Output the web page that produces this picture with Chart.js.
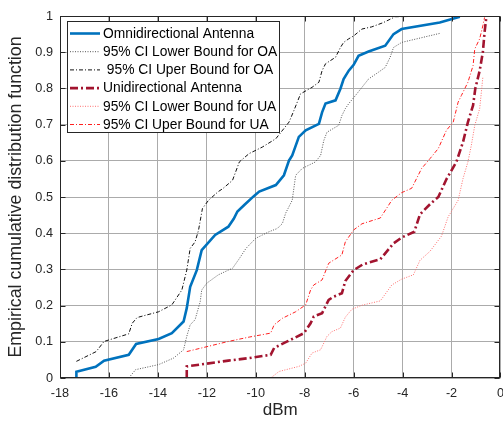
<!DOCTYPE html>
<html><head><meta charset="utf-8">
<script src="https://cdn.jsdelivr.net/npm/chart.js@4.4.1/dist/chart.umd.min.js"></script>
<style>
html,body{margin:0;padding:0;overflow:hidden;background:#fff;width:503px;height:421px}
#wrap{position:absolute;left:0;top:0;width:512px;height:421px}
</style></head>
<body><div id="wrap"><canvas id="c" width="512" height="421"></canvas></div>
<script>
const xTicks = [-18,-16,-14,-12,-10,-8,-6,-4,-2,0];
const yTicks = [0,0.1,0.2,0.3,0.4,0.5,0.6,0.7,0.8,0.9,1];
const xTitle = 'dBm';
const yTitle = 'Empirical cumulative distribution function';
const seriesNames = ['Omnidirectional Antenna','95% CI Lower Bound for OA',' 95% CI Uper Bound for OA','Unidirectional Antenna','95% CI Lower Bound for UA','95% CI Uper Bound for UA'];

const oaX = [-17.33,-17.33,-16.54,-16.2,-15.19,-14.89,-13.97,-13.43,-12.95,-12.82,-12.68,-12.41,-12.21,-11.66,-11.12,-10.9,-10.75,-10.47,-10.07,-9.86,-9.18,-8.85,-8.64,-8.51,-8.24,-7.96,-7.42,-7.29,-7.15,-6.74,-6.54,-6.41,-6.2,-6.0,-5.8,-5.39,-4.71,-4.37,-4.04,-2.48,-1.66];
const oaY = [0,0.017,0.031,0.048,0.064,0.094,0.108,0.124,0.156,0.193,0.252,0.298,0.353,0.395,0.418,0.44,0.46,0.478,0.503,0.515,0.533,0.560,0.601,0.615,0.666,0.684,0.702,0.734,0.758,0.767,0.799,0.826,0.849,0.865,0.89,0.902,0.918,0.950,0.964,0.982,0.998];

const oaLoX = [-16.1,-15.19,-14.91,-13.97,-13.36,-12.95,-12.82,-12.68,-12.48,-12.27,-12.21,-12.0,-11.53,-11.12,-10.95,-10.67,-10.4,-10.0,-9.46,-9.12,-8.91,-8.78,-8.51,-8.37,-8.10,-7.56,-7.35,-7.22,-7.09,-6.61,-6.48,-6.34,-6.2,-5.93,-5.39,-4.98,-4.71,-4.51,-4.37,-4.04,-2.48];
const oaLoY = [0,0,0.023,0.037,0.055,0.078,0.115,0.147,0.161,0.211,0.243,0.262,0.285,0.298,0.303,0.33,0.358,0.386,0.404,0.413,0.427,0.455,0.491,0.560,0.579,0.597,0.615,0.656,0.679,0.698,0.725,0.744,0.758,0.78,0.826,0.845,0.858,0.886,0.913,0.927,0.952];

const oaUpX = [-17.33,-16.52,-16.2,-15.19,-15.05,-14.85,-13.97,-13.43,-13.02,-12.82,-12.68,-12.48,-12.34,-12.18,-11.93,-11.53,-11.35,-10.95,-10.67,-10.27,-9.73,-9.18,-8.64,-8.44,-8.17,-7.70,-7.42,-7.29,-7.15,-6.74,-6.54,-6.41,-6.2,-6.0,-5.66,-5.26,-4.78,-4.3,-2.4];
const oaUpY = [0.046,0.073,0.101,0.122,0.151,0.167,0.183,0.202,0.243,0.298,0.358,0.376,0.408,0.468,0.491,0.515,0.523,0.546,0.597,0.620,0.638,0.661,0.707,0.739,0.785,0.803,0.817,0.849,0.868,0.886,0.913,0.927,0.937,0.945,0.964,0.970,0.982,0.998,1.0];

const uaX = [-12.82,-12.82,-11.12,-10.27,-9.39,-9.25,-8.71,-8.03,-7.76,-7.63,-7.29,-7.02,-6.81,-6.48,-6.34,-6.0,-5.62,-4.91,-4.37,-4.04,-3.52,-3.29,-2.85,-2.54,-2.21,-1.80,-1.53,-1.33,-1.12,-1.03,-0.85,-0.72,-0.65,-0.58];
const uaY = [0,0.032,0.048,0.055,0.064,0.083,0.101,0.124,0.151,0.170,0.179,0.216,0.225,0.234,0.268,0.298,0.314,0.328,0.372,0.388,0.404,0.452,0.482,0.5,0.549,0.597,0.652,0.707,0.753,0.799,0.849,0.9,0.955,0.996];

const uaLoX = [-12.82,-9.39,-9.05,-8.24,-7.96,-7.70,-7.35,-7.09,-6.89,-6.54,-6.34,-6.07,-5.66,-4.91,-4.44,-4.04,-3.56,-3.29,-2.88,-2.41,-2.14,-1.73,-1.53,-1.33,-1.19,-1.05,-0.85,-0.78,-0.72];
const uaLoY = [0,0,0.018,0.032,0.041,0.069,0.078,0.115,0.128,0.138,0.168,0.19,0.201,0.213,0.257,0.273,0.285,0.325,0.35,0.392,0.445,0.491,0.551,0.597,0.643,0.698,0.744,0.79,0.831];

const uaUpX = [-12.82,-11.12,-10.27,-9.39,-9.25,-8.91,-8.37,-7.96,-7.76,-7.63,-7.29,-7.02,-6.81,-6.48,-6.34,-6.0,-5.66,-4.91,-4.44,-4.04,-3.63,-3.22,-2.88,-2.54,-2.21,-1.93,-1.73,-1.60,-1.33,-1.12,-1.05,-0.85,-0.72,-0.65];
const uaUpY = [0.073,0.101,0.113,0.124,0.147,0.165,0.183,0.202,0.243,0.257,0.271,0.317,0.326,0.340,0.376,0.409,0.426,0.442,0.491,0.512,0.524,0.579,0.606,0.634,0.684,0.707,0.762,0.780,0.817,0.863,0.909,0.937,0.973,0.996];

const pts = (xs, ys) => xs.map((x, i) => ({x, y: ys[i]}));
const FONT = '"Liberation Sans", Arial, Helvetica, sans-serif';

const datasets = [
  {label: seriesNames[0], data: pts(oaX, oaY), borderColor: '#0072BD', borderWidth: 2.6, borderDash: []},
  {label: seriesNames[1], data: pts(oaLoX, oaLoY), borderColor: '#555555', borderWidth: 1, borderDash: [1, 1.5]},
  {label: seriesNames[2], data: pts(oaUpX, oaUpY), borderColor: '#111111', borderWidth: 1, borderDash: [4, 2, 1, 2]},
  {label: seriesNames[3], data: pts(uaX, uaY), borderColor: '#A2142F', borderWidth: 2.6, borderDash: [8, 3, 2, 3]},
  {label: seriesNames[4], data: pts(uaLoX, uaLoY), borderColor: '#ff7070', borderWidth: 1, borderDash: [1, 1.5]},
  {label: seriesNames[5], data: pts(uaUpX, uaUpY), borderColor: '#ff2020', borderWidth: 1, borderDash: [4, 2, 1, 2]}
].map(d => Object.assign(d, {pointRadius: 0, tension: 0, fill: false, backgroundColor: d.borderColor}));

const framePlugin = {
  id: 'frame',
  afterDatasetsDraw(chart) {
    const {ctx, chartArea: a, scales} = chart;
    ctx.save();
    ctx.strokeStyle = '#262626';
    ctx.lineWidth = 1;
    const L = Math.round(a.left) + 0.5, R = Math.round(a.right) - 0.5;
    const T = Math.round(a.top) + 0.5, B = Math.round(a.bottom) - 0.5;
    ctx.beginPath();
    xTicks.forEach(v => {
      const p = Math.round(scales.x.getPixelForValue(v)) + 0.5;
      ctx.moveTo(p, B); ctx.lineTo(p, B - 5);
      ctx.moveTo(p, T); ctx.lineTo(p, T + 5);
    });
    yTicks.forEach(v => {
      const p = Math.round(scales.y.getPixelForValue(v)) + 0.5;
      ctx.moveTo(L, p); ctx.lineTo(L + 5, p);
      ctx.moveTo(R, p); ctx.lineTo(R - 5, p);
    });
    ctx.stroke();
    ctx.strokeRect(L, T, R - L, B - T);
    ctx.restore();
  }
};

const legendPlugin = {
  id: 'boxLegend',
  afterDraw(chart) {
    const {ctx} = chart;
    const bx = 67.5, by = 21.5, bw = 212, bh = 111;
    ctx.save();
    ctx.fillStyle = '#ffffff';
    ctx.fillRect(bx, by, bw, bh);
    ctx.strokeStyle = '#262626';
    ctx.lineWidth = 1;
    ctx.strokeRect(bx, by, bw, bh);
    ctx.font = '13.8px ' + FONT;
    ctx.textBaseline = 'middle';
    ctx.textAlign = 'left';
    chart.data.datasets.forEach((d, i) => {
      const yy = 33.5 + i * 18.2;
      ctx.beginPath();
      ctx.setLineDash(d.borderDash || []);
      ctx.strokeStyle = d.borderColor;
      ctx.lineWidth = d.borderWidth;
      ctx.moveTo(70, yy); ctx.lineTo(100, yy);
      ctx.stroke();
      ctx.setLineDash([]);
      ctx.fillStyle = '#000000';
      ctx.fillText(d.label, 103, yy + 0.5);
    });
    ctx.restore();
  }
};

new Chart(document.getElementById('c'), {
  type: 'line',
  data: {datasets},
  plugins: [framePlugin, legendPlugin],
  options: {
    responsive: false,
    devicePixelRatio: 1,
    animation: false,
    parsing: true,
    layout: {padding: {left: 0, right: 10, top: 16, bottom: 0}},
    plugins: {legend: {display: false}, tooltip: {enabled: false}},
    scales: {
      x: {
        type: 'linear', min: -18, max: 0,
        afterBuildTicks: s => { s.ticks = xTicks.map(v => ({value: v})); },
        afterFit: s => { s.height = 43; },
        ticks: {color: '#262626', font: {family: FONT, size: 12.7}, padding: 8, maxRotation: 0, callback: v => String(v)},
        grid: {color: '#ababab', lineWidth: 1, drawTicks: false},
        border: {display: false},
        title: {display: true, text: xTitle, color: '#262626', font: {family: FONT, size: 17}, padding: {top: 0, bottom: 0}}
      },
      y: {
        type: 'linear', min: 0, max: 1,
        afterBuildTicks: s => { s.ticks = yTicks.map(v => ({value: v})); },
        afterFit: s => { s.width = 60; },
        ticks: {color: '#262626', font: {family: FONT, size: 12.7}, padding: 7, callback: v => String(Math.round(v * 10) / 10)},
        grid: {color: '#ababab', lineWidth: 1, drawTicks: false},
        border: {display: false},
        title: {display: true, text: yTitle, color: '#262626', font: {family: FONT, size: 17.8}, padding: {top: 5, bottom: 0}}
      }
    }
  }
});
</script>
</body></html>
